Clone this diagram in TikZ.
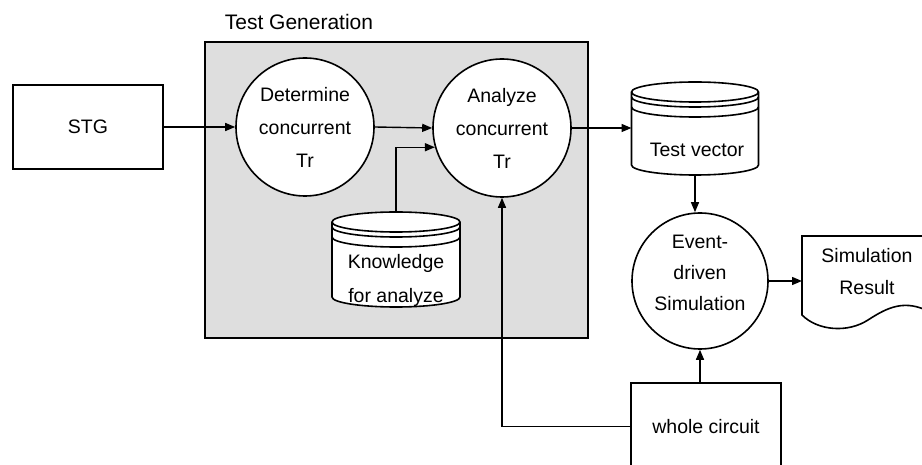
\documentclass[tikz,border=0pt]{standalone}
\usepackage{fontspec}
\setmainfont{Liberation Sans}
\usetikzlibrary{arrows.meta}

% data store: top ellipse with two extra rims, straight sides, rounded base
% #1 name, #2 centre x, #3 top y, #4 y where the sides end, #5 half width
\newcommand\storecyl[5]{%
  \filldraw[shapeline, fill=white] ({#2-#5},{#3+10}) -- ({#2-#5},#4)
    arc[start angle=180, end angle=0, x radius=#5, y radius=10]
    -- ({#2+#5},{#3+10})
    arc[start angle=0, end angle=-180, x radius=#5, y radius=10] -- cycle;
  \draw[shapeline] ({#2-#5},{#3+10}) arc[start angle=180, end angle=0, x radius=#5, y radius=10];
  \draw[shapeline] ({#2-#5},{#3+15}) arc[start angle=180, end angle=0, x radius=#5, y radius=10];
  \draw[shapeline] ({#2-#5},{#3+25}) arc[start angle=180, end angle=0, x radius=#5, y radius=10];
  \coordinate (#1-top) at (#2,#3);
  \coordinate (#1-bot) at (#2,{#4+10});
  \coordinate (#1-w) at ({#2-#5},{(#3+#4)/2});
}

\begin{document}
\begin{tikzpicture}[x=1pt, y=-1pt,
  every node/.style={font=\fontsize{19.5}{33}\selectfont, align=center},
  shapeline/.style={line width=1.6pt},
  flow/.style={line width=1.4pt, -{Triangle[length=10pt, width=8pt]}},
  proc/.style={circle, draw, line width=1.6pt, fill=white, minimum size=138pt, inner sep=0pt},
  ext/.style={rectangle, draw, line width=1.6pt, fill=white, inner sep=0pt}]
\useasboundingbox (0,0) rectangle (922,465);
\clip (0,0) rectangle (922,465);

% test generation stage
\node[draw, fill=black!13, line width=1.6pt, minimum width=383pt, minimum height=296pt, inner sep=0pt] (tg) at (396.5,190) {};
\node[font=\fontsize{21}{25}\selectfont] (tgtitle) at (299,22) {Test Generation};

% external entities
\node[ext, minimum width=150pt, minimum height=84pt] (stg) at (88,127) {STG};
\node[ext, minimum width=150pt, minimum height=87pt] (wc) at (706,426.5) {whole circuit};

% processes
\node[proc] (det) at (305,127) {Determine\\concurrent\\Tr};
\node[proc] (an) at (502,128) {Analyze\\concurrent\\Tr};
\node[proc, minimum size=136pt] (ev) at (700,281) {};
\node[font=\fontsize{19.5}{31}\selectfont] (evtext) at (700,273) {Event-\\driven\\Simulation};

% data stores
\storecyl{kn}{396}{212}{297}{64}
\node[font=\fontsize{19.5}{34}\selectfont] (kntext) at (396,280) {Knowledge\\for analyze};
\storecyl{tv}{695}{82}{165}{63.5}
\node (tvtext) at (697,150) {Test vector};

% output document
\filldraw[shapeline, fill=white] (930,236) -- (802,236) -- (802,315)
  .. controls (818,331) and (848,333) .. (868,320)
  .. controls (888,307) and (905,299) .. (930,312);
\coordinate (sr-w) at (802,281);
\node[font=\fontsize{19.5}{32}\selectfont] (srtext) at (867,272) {Simulation\\Result};

% data flows
\draw[flow] (stg.east) -- (det.west);
\draw[flow] (det.east) -- (an.west);
\draw[flow] (kn-top) |- (an.196);
\draw[flow] (an.east) -- (an.east -| tv-w);
\draw[flow] (tv-bot) -- (tv-bot |- ev.north);
\draw[flow] (ev.east) -- (ev.east -| sr-w);
\draw[flow] (wc.west) -| (an.south);
\draw[flow] (ev.south |- wc.north) -- (ev.south);
\end{tikzpicture}
\end{document}
